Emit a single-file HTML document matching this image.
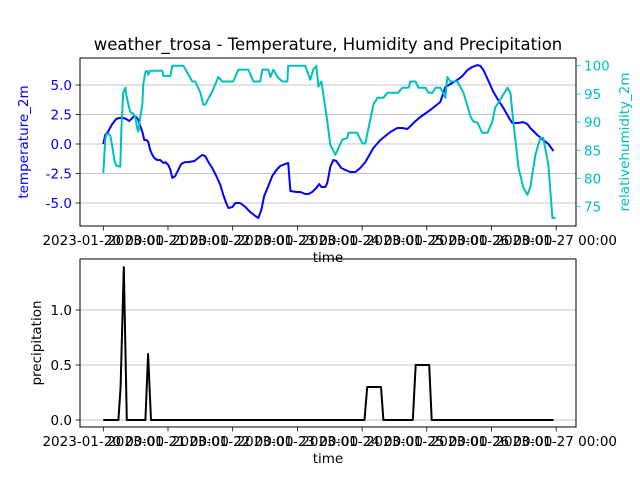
<!DOCTYPE html>
<html><head><meta charset="utf-8"><style>
body{margin:0;background:#fff;}
svg{display:block;font-family:"DejaVu Sans","Liberation Sans",sans-serif;}
</style></head><body>
<svg id="c" width="640" height="480" viewBox="0 0 640 480"></svg>
<script>
const tempHours=[0,0.7,1.5,3.3,4.8,5.9,7.4,8.5,9.6,10.4,11.5,12.2,13.0,13.7,14.5,15.2,16.0,16.7,17.4,18.2,18.9,20.0,21.1,22.3,23.0,24.1,24.9,25.6,26.7,27.8,28.9,30.4,31.5,33.8,35.2,36.7,37.8,39.0,40.4,41.9,43.4,44.5,45.6,46.4,47.9,49.0,50.8,52.7,54.5,56.4,57.5,58.6,59.7,61.2,62.7,64.2,65.7,67.5,68.6,69.4,71.6,73.1,74.9,76.1,77.5,79.0,80.1,80.9,82.4,83.1,84.2,85.3,86.4,88.3,89.8,91.6,93.5,95.3,97.2,100.2,102.8,106.5,109.1,111,112.8,115.4,117.6,121.3,125,126.9,128.7,131.3,133.2,135.1,136.9,138.8,139.9,141,142.9,144.7,146.5,148.4,150.3,151.7,153.6,155.8,157.3,158.4,161,163.2,165.1,167];
const tempValues=[0.0,0.76,0.93,1.69,2.12,2.2,2.2,2.12,1.95,2.12,2.37,2.29,2.03,1.53,1.02,0.34,0.34,0.17,-0.51,-0.93,-1.19,-1.36,-1.36,-1.61,-1.53,-1.78,-2.2,-2.88,-2.71,-2.2,-1.69,-1.53,-1.53,-1.44,-1.19,-0.93,-1.02,-1.53,-2.03,-2.71,-3.47,-4.32,-5.0,-5.42,-5.34,-5.0,-5.0,-5.34,-5.76,-6.1,-6.27,-5.59,-4.41,-3.56,-2.71,-2.2,-1.86,-1.69,-1.61,-3.98,-4.07,-4.07,-4.24,-4.24,-4.07,-3.73,-3.39,-3.64,-3.64,-3.3,-1.95,-1.36,-1.44,-2.03,-2.2,-2.37,-2.37,-2.03,-1.53,-0.34,0.34,1.02,1.36,1.36,1.27,1.86,2.29,2.88,3.56,4.83,5.08,5.42,5.76,6.27,6.53,6.69,6.61,6.27,5.34,4.41,3.73,3.05,2.29,1.78,1.78,1.86,1.69,1.36,0.76,0.34,0.0,-0.59];
const humHours=[0,0.7,1.1,1.9,2.6,3.3,4.1,4.8,6.3,6.7,7.4,8.2,8.5,9.3,10.0,11.1,11.9,12.6,13.0,13.7,14.5,14.8,15.6,16.3,16.7,17.4,21.9,22.3,24.9,25.6,29.7,33.0,34.1,36.0,37.1,37.8,40.4,42.7,44.1,48.2,50.1,53.8,55.7,58.2,59.0,61.2,62.0,63.1,64.6,66.4,68.3,68.6,74.9,76.8,77.9,79.0,79.8,80.9,81.2,83.1,84.2,86.1,88.7,90.5,90.9,94.2,96.1,97.2,100.2,101.7,103.9,105.4,109.4,110.9,113.2,113.9,115.8,116.9,119.5,120.6,122.1,123.2,125.0,126.1,126.9,127.6,128.7,131.3,133.6,136.2,137.3,138.8,140.6,142.5,144.3,145.4,147.3,149.9,151.0,152.1,154.0,155.8,157.3,158.4,160.3,162.1,163.2,165.1,166.6,167.7];
const humValues=[81.0,86.7,87.8,87.9,87.6,85.8,83.2,82.3,82.1,88.7,95.2,96.1,94.9,93.1,91.8,91.5,90.8,88.8,88.3,90.8,93.3,96.6,98.9,99.1,98.4,99.1,99.1,98.2,98.2,100,100,97.2,97.2,95.2,93.1,93.1,95.4,98.0,97.2,97.2,99.3,99.3,97.2,97.2,99.3,99.3,98.0,99.3,98.0,97.2,97.2,100,100,97.5,99.3,100,96.3,97.2,96.3,90.1,86.0,84.2,86.9,87.2,88.1,88.1,86.2,86.2,93.1,94.3,94.3,95.2,95.2,96.1,96.1,97.2,97.2,96.1,96.1,95.2,95.2,96.1,96.1,95.2,94.3,98.0,97.2,97.2,95.2,91.0,90.1,89.9,88.1,88.1,90.1,92.6,94.0,96.1,95.2,90.1,81.9,78.4,77.1,78.4,84.2,87.2,87.2,82.4,73.0,73.0];
const precipHours=[0,5.6,6.4,7.6,8.7,15.6,16.6,17.7,96.9,97.9,103,103.9,114.8,115.9,120.9,121.8,167];
const precipValues=[0,0,0.3,1.39,0,0,0.6,0,0,0.3,0.3,0,0,0.5,0.5,0,0];
const xTickLabels=["2023-01-20 00:00","2023-01-21 00:00","2023-01-22 00:00","2023-01-23 00:00","2023-01-24 00:00","2023-01-25 00:00","2023-01-26 00:00","2023-01-27 00:00"];
const tempTicks=[5.0,2.5,0.0,-2.5,-5.0];
const humTicks=[100,95,90,85,80,75];
const precipTicks=[0.0,0.5,1.0];

const NS="http://www.w3.org/2000/svg";
const svg=document.getElementById('c');
function mk(tag,attrs,parent){const e=document.createElementNS(NS,tag);for(const k in attrs)e.setAttribute(k,attrs[k]);(parent||svg).appendChild(e);return e;}
const X=h=>103.3+h*64.7/24;
const yT=v=>144-v*11.8;
const yH=v=>65.7+(100-v)*5.64;
const yP=v=>420-v*110;
const topAx={x:80,y:58,w:496,h:168}, botAx={x:80,y:259,w:496,h:168};

let t=mk('text',{x:328,y:50,'text-anchor':'middle','font-size':16.5,fill:'#000'});t.textContent="weather_trosa - Temperature, Humidity and Precipitation";



tempTicks.forEach(v=>{const l=mk('line',{x1:80,x2:576,y1:yT(v),y2:yT(v),stroke:'#b0b0b0','stroke-width':0.8});

});
precipTicks.forEach(v=>{const l=mk('line',{x1:80,x2:576,y1:yP(v),y2:yP(v),stroke:'#b0b0b0','stroke-width':0.8});

});

function poly(hs,vs,yf,color,name){const n=Math.min(hs.length,vs.length);const pts=[];for(let i=0;i<n;i++)pts.push(X(hs[i]).toFixed(1)+','+yf(vs[i]).toFixed(1));
const p=mk('polyline',{points:pts.join(' '),fill:'none',stroke:color,'stroke-width':2,'stroke-linejoin':'round'});

}
poly(tempHours,tempValues,yT,'#0000ff','temperature-line');
poly(humHours,humValues,yH,'#00bfbf','humidity-line');
poly(precipHours,precipValues,yP,'#000000','precipitation-line');

[topAx,botAx].forEach((a,i)=>{const r=mk('rect',{x:a.x,y:a.y,width:a.w,height:a.h,fill:'none',stroke:'#000','stroke-width':1});

});

[[226,'top'],[427,'bottom']].forEach(([y0,nm])=>{
 xTickLabels.forEach((lab,i)=>{const x=X(i*24);
  mk('line',{x1:x,x2:x,y1:y0,y2:y0+4.5,stroke:'#000','stroke-width':0.8});
  const tx=mk('text',{x:x,y:y0+19,'text-anchor':'middle','font-size':13.5,fill:'#000'});tx.textContent=lab;
  
  });
 const xl=mk('text',{x:328,y:y0+36,'text-anchor':'middle','font-size':13.5,fill:'#000'});xl.textContent='time';
 
 
});

tempTicks.forEach(v=>{const y=yT(v);mk('line',{x1:75.5,x2:80,y1:y,y2:y,stroke:'#000','stroke-width':0.8});
 const tx=mk('text',{x:72,y:y+5,'text-anchor':'end','font-size':13.5,fill:'#0000ff'});tx.textContent=v.toFixed(1);
 
 });
humTicks.forEach(v=>{const y=yH(v);mk('line',{x1:576,x2:580.5,y1:y,y2:y,stroke:'#00bfbf','stroke-width':0.8});
 const tx=mk('text',{x:584,y:y+5,'text-anchor':'start','font-size':13.5,fill:'#00bfbf'});tx.textContent=v;
 
 });
precipTicks.forEach(v=>{const y=yP(v);mk('line',{x1:75.5,x2:80,y1:y,y2:y,stroke:'#000','stroke-width':0.8});
 const tx=mk('text',{x:72,y:y+5,'text-anchor':'end','font-size':13.5,fill:'#000'});tx.textContent=v.toFixed(1);
 
 });

function ylab(txt,x,y,color,name){const e=mk('text',{x:x,y:y,'text-anchor':'middle','font-size':13.5,fill:color,transform:`rotate(-90 ${x} ${y})`});e.textContent=txt;
 
 }
ylab('temperature_2m',28,142,'#0000ff','temp-y-axis-title');
ylab('relativehumidity_2m',629,142,'#00bfbf','humidity-y-axis-title');
ylab('precipitation',41,343,'#000','precip-y-axis-title');
</script>
</body></html>
